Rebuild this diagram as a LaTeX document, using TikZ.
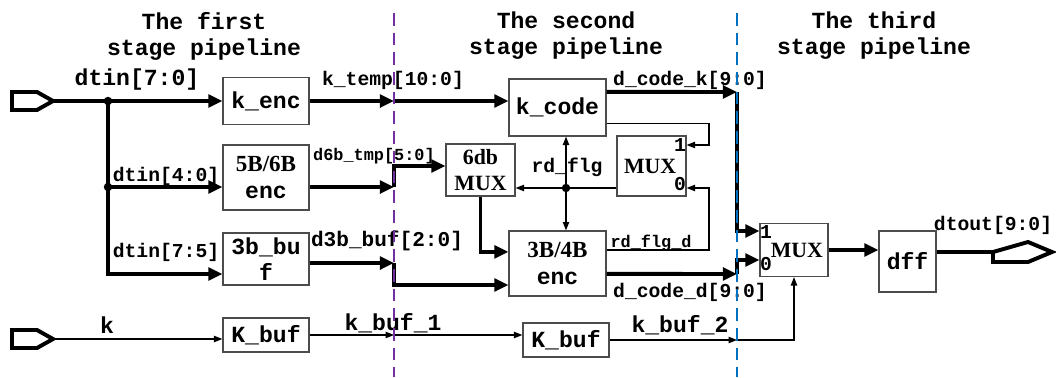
\documentclass[tikz,border=0pt]{standalone}
\usepackage{fontspec}
\setmainfont{Liberation Serif}
\setmonofont{Liberation Mono}
\usetikzlibrary{arrows.meta,calc}

\definecolor{stagepurple}{RGB}{112,48,160}
\definecolor{stageblue}{RGB}{0,112,192}

\begin{document}
\begin{tikzpicture}[x=0.025cm, y=-0.025cm, line join=miter,
  blk/.style={draw=black!70, line width=0.8pt, inner sep=0pt, align=center, font=\ttfamily\bfseries\fontsize{16.4}{19}\selectfont},
  serifblk/.style={blk, font=\rmfamily\bfseries\fontsize{15.5}{19}\selectfont},
  lbl/.style={inner sep=0pt, font=\ttfamily\bfseries\fontsize{16.4}{18.5}\selectfont},
  mid/.style={inner sep=0pt, font=\ttfamily\bfseries\fontsize{14}{16}\selectfont},
  sml/.style={inner sep=0pt, font=\ttfamily\bfseries\fontsize{12}{14}\selectfont},
  bus/.style={line width=2.8pt, -{Triangle[length=10pt,width=9pt]}},
  sig/.style={line width=0.85pt, -{Triangle[length=6pt,width=4.5pt]}},
  port/.style={line width=2.8pt},
  stage/.style={line width=1.4pt, dash pattern=on 9pt off 5pt}]
  \useasboundingbox (0,0) rectangle (1056,377);

  % Headings
  \node[lbl, align=center] (head1) at (204,36) {The first\\stage pipeline};
  \node[lbl, align=center] (head2) at (566,36) {The second\\stage pipeline};
  \node[lbl, align=center] (head3) at (874,36) {The third\\stage pipeline};

  % Stage 1 blocks
  \node[blk, minimum width=2.15cm, minimum height=1.175cm] (kenc) at (266,101) {k\_enc};
  \node[blk, minimum width=2.15cm, minimum height=1.625cm] (enc56) at (266,177.5) {\rmfamily 5B/6B\\enc};
  \node[blk, minimum width=2.15cm, minimum height=1.3cm] (buf3) at (266,259) {3b\_bu\\f};
  \node[blk, minimum width=2.15cm, minimum height=0.85cm] (kbuf1) at (266,335) {K\_buf};

  % Stage 2 blocks
  \node[blk, minimum width=2.425cm, minimum height=1.425cm] (kcode) at (557.5,107.5) {k\_code};
  \node[serifblk, minimum width=1.725cm, minimum height=1.3cm] (mux6) at (480.5,170) {6db\\MUX};
  \node[serifblk, minimum width=1.725cm, minimum height=1.5cm] (mux2) at (651.5,166) {MUX\hspace*{2pt}};
  \node[blk, minimum width=2.425cm, minimum height=1.625cm] (enc34) at (557.5,263.5) {\rmfamily 3B/4B\\enc};
  \node[blk, minimum width=2.15cm, minimum height=0.85cm] (kbuf2) at (566,340) {K\_buf};

  % Stage 3 blocks
  \node[serifblk, minimum width=1.7cm, minimum height=1.325cm] (mux3) at (794,250) {\hspace*{4pt}MUX};
  \node[blk, minimum width=1.425cm, minimum height=1.525cm] (dff) at (907.5,261.5) {dff};

  % Mux input numbers
  \node[mid] (m2one) at (680,145) {1};
  \node[mid] (m2zero) at (680,184) {0};
  \node[mid] (m3one) at (766,232) {1};
  \node[mid] (m3zero) at (766,264) {0};

  % Ports, taps and stage crossings
  \coordinate (dtinp) at (53,101);
  \coordinate (kp) at (53,339);
  \coordinate (dtoutp) at (993,252);
  \coordinate (tap1) at (108,101);
  \coordinate (tap2) at (108,187);
  \coordinate (tap3) at (108,274);
  \coordinate (ktmp) at (394,101);
  \coordinate (d6a) at (394,187);
  \coordinate (d6b) at (394,166);
  \coordinate (d3a) at (394,263);
  \coordinate (d3b) at (394,285);
  \coordinate (kb1) at (394,335);
  \coordinate (dck) at (737,92);
  \coordinate (dcd) at (737,274);
  \coordinate (kb2) at (737,340);
  \coordinate (fbk) at (709,145);
  \coordinate (fbd) at (709,188);
  \coordinate (rdj) at (566,188);

  \draw[port] (dtinp) -- ++(-16,-9) -- ++(-25,0) -- ++(0,18) -- ++(25,0) -- cycle;
  \draw[port] (kp) -- ++(-16,-9) -- ++(-25,0) -- ++(0,18) -- ++(25,0) -- cycle;
  \draw[port] (dtoutp) -- ++(35,-10) -- ++(24,10) -- ++(-24,10) -- ++(-35,0) -- cycle;

  % Stage 1 wiring
  \draw[bus] (dtinp) -- (kenc.west);
  \draw[bus] (tap1) -- (tap2) -- (tap2 -| enc56.west);
  \draw[bus] (tap2) -- (tap3) -- (tap3 -| buf3.west);
  \fill (tap1) circle (3pt);
  \fill (tap2) circle (3pt);
  \draw[sig] (kp) -- (kp -| kbuf1.west);

  \node[lbl] (ldtin) at (137,80) {dtin[7:0]};
  \node[mid] (ldtin4) at (166,176) {dtin[4:0]};
  \node[mid] (ldtin7) at (166,252) {dtin[7:5]};
  \node[lbl] (lk) at (107,325) {k};

  % Stage 1 -> stage 2
  \draw[bus] (kenc.east) -- (ktmp);
  \draw[bus] (ktmp) -- (ktmp -| kcode.west);
  \draw[bus] (enc56.east |- d6a) -- (d6a);
  \draw[bus] (d6a) -- (d6b) -- (d6b -| mux6.west);
  \draw[bus] (buf3.east |- d3a) -- (d3a);
  \draw[bus] (d3a) -- (d3b) -- (d3b -| enc34.west);
  \draw[sig] (kbuf1.east) -- (kb1);
  \draw[sig] (kb1) -- (kb1 -| kbuf2.west);

  \node[mid] (lktmp) at (393,80) {k\_temp[10:0]};
  \node[sml] (ld6b) at (374,156) {d6b\_tmp[5:0]};
  \node[mid, font=\ttfamily\bfseries\fontsize{15}{16}\selectfont] (ld3b) at (387,241) {d3b\_buf[2:0]};
  \node[lbl] (lkb1) at (393,323) {k\_buf\_1};

  % Stage 2 wiring
  \draw[bus] (mux6.south) |- ([yshift=0.29cm]enc34.west);
  \draw[sig] ([yshift=-0.39cm]kcode.east) -| (fbk) -- (fbk -| mux2.east);
  \draw[sig] ([yshift=0.34cm]enc34.east) -| (fbd) -- (fbd -| mux2.east);
  \draw[sig] (fbd -| mux2.west) -- (rdj -| mux6.east);
  \draw[sig] (rdj) -- (rdj |- kcode.south);
  \draw[sig] (rdj) -- (rdj |- enc34.north);
  \fill (rdj) circle (3pt);

  \node[mid] (lrd) at (567,167) {rd\_flg};
  \node[sml] (lrdd) at (651,243) {rd\_flg\_d};

  % Stage 2 -> stage 3
  \draw[bus] ([yshift=0.39cm]kcode.east) -- (dck);
  \draw[bus] (dck) |- ([yshift=0.475cm]mux3.west);
  \draw[bus] ([yshift=-0.26cm]enc34.east) -- (dcd);
  \draw[bus] (dcd) |- ([yshift=-0.25cm]mux3.west);
  \draw[sig] (kbuf2.east |- kb2) -- (kb2);
  \draw[sig] (kb2) -| (mux3.south);

  \node[mid] (ldck) at (690,80) {d\_code\_k[9:0]};
  \node[mid] (ldcd) at (690,292) {d\_code\_d[9:0]};
  \node[lbl] (lkb2) at (680,325) {k\_buf\_2};

  % Stage 3 wiring
  \draw[bus] (mux3.east) -- (mux3.east -| dff.west);
  \draw[line width=2.8pt] (dff.east |- dtoutp) -- (dtoutp);
  \node[mid] (ldtout) at (993,225) {dtout[9:0]};

  % Stage dividers
  \draw[stage, stagepurple] (394,13) -- (394,377);
  \draw[stage, stageblue] (737,13) -- (737,377);
\end{tikzpicture}
\end{document}
